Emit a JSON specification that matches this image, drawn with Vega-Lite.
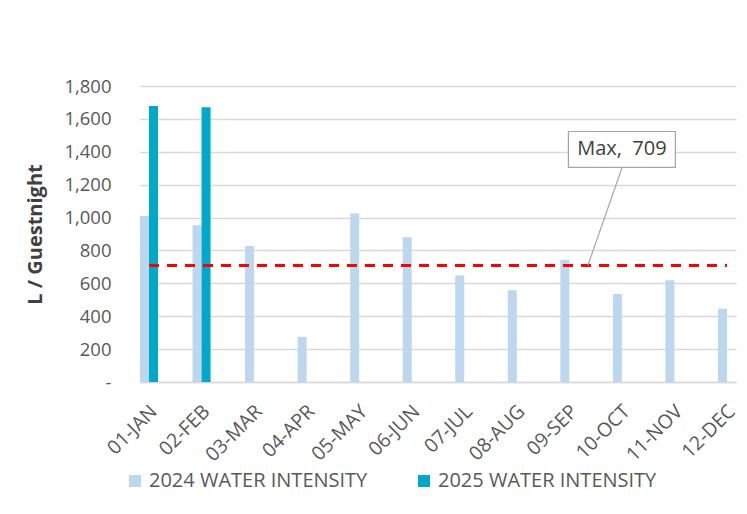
{
  "$schema": "https://vega.github.io/schema/vega-lite/v6.json",
  "width": 596,
  "height": 296,
  "autosize": {"type": "none"},
  "padding": {"left": 140, "top": 86, "right": 11, "bottom": 132},
  "background": "white",
  "config": {
    "view": {"stroke": null},
    "font": "Open Sans",
    "axis": {"labelFont": "Open Sans", "titleFont": "Open Sans"}
  },
  "datasets": {
    "bars": [
      {"month": "01-JAN", "series": "2024 WATER INTENSITY", "value": 1010},
      {"month": "01-JAN", "series": "2025 WATER INTENSITY", "value": 1679},
      {"month": "02-FEB", "series": "2024 WATER INTENSITY", "value": 953},
      {"month": "02-FEB", "series": "2025 WATER INTENSITY", "value": 1671},
      {"month": "03-MAR", "series": "2024 WATER INTENSITY", "value": 827},
      {"month": "04-APR", "series": "2024 WATER INTENSITY", "value": 274},
      {"month": "05-MAY", "series": "2024 WATER INTENSITY", "value": 1024},
      {"month": "06-JUN", "series": "2024 WATER INTENSITY", "value": 880},
      {"month": "07-JUL", "series": "2024 WATER INTENSITY", "value": 647},
      {"month": "08-AUG", "series": "2024 WATER INTENSITY", "value": 558},
      {"month": "09-SEP", "series": "2024 WATER INTENSITY", "value": 744},
      {"month": "10-OCT", "series": "2024 WATER INTENSITY", "value": 535},
      {"month": "11-NOV", "series": "2024 WATER INTENSITY", "value": 618},
      {"month": "12-DEC", "series": "2024 WATER INTENSITY", "value": 446}
    ],
    "maxline": [
      {"month": "01-JAN", "value": 709},
      {"month": "02-FEB", "value": 709},
      {"month": "03-MAR", "value": 709},
      {"month": "04-APR", "value": 709},
      {"month": "05-MAY", "value": 709},
      {"month": "06-JUN", "value": 709},
      {"month": "07-JUL", "value": 709},
      {"month": "08-AUG", "value": 709},
      {"month": "09-SEP", "value": 709},
      {"month": "10-OCT", "value": 709},
      {"month": "11-NOV", "value": 709},
      {"month": "12-DEC", "value": 709}
    ],
    "note": [
      {"month": "10-OCT", "label": "Max,\u00a0 709", "value": 1414, "top": 1301, "bottom": 709}
    ]
  },
  "layer": [
    {
      "data": {"name": "bars"},
      "mark": {"type": "bar"},
      "encoding": {
        "x": {
          "field": "month",
          "type": "nominal",
          "scale": {
            "domain": ["01-JAN","02-FEB","03-MAR","04-APR","05-MAY","06-JUN","07-JUL","08-AUG","09-SEP","10-OCT","11-NOV","12-DEC"],
            "paddingInner": 0.657,
            "paddingOuter": 0
          },
          "axis": {
            "title": null,
            "labelAngle": -45,
            "labelAlign": "right",
            "labelBaseline": "middle",
            "labelFontSize": 19.5,
            "labelColor": "#595959",
            "labelPadding": 26,
            "labelOffset": 5,
            "labelOverlap": false,
            "ticks": false,
            "domainColor": "#d9d9d9",
            "domainWidth": 1.5,
            "grid": false
          }
        },
        "xOffset": {"field": "series", "type": "nominal"},
        "y": {
          "field": "value",
          "type": "quantitative",
          "scale": {"domain": [0, 1800], "nice": false},
          "axis": {
            "title": "L / Guestnight",
            "titleFontSize": 20,
            "titleFontWeight": "bold",
            "titleColor": "#404040",
            "titleAngle": -90,
            "titleX": -105,
            "titleY": 148,
            "titleAlign": "center",
            "titleBaseline": "middle",
            "values": [0,200,400,600,800,1000,1200,1400,1600,1800],
            "labelExpr": "datum.value == 0 ? '-' : format(datum.value, ',')",
            "labelFontSize": 18.5,
            "labelColor": "#595959",
            "labelPadding": 29,
            "labelOverlap": false,
            "ticks": false,
            "domain": false,
            "grid": true,
            "gridColor": "#d9d9d9",
            "gridWidth": 1.5
          }
        },
        "color": {
          "field": "series",
          "type": "nominal",
          "scale": {
            "domain": ["2024 WATER INTENSITY", "2025 WATER INTENSITY"],
            "range": ["#bdd7ee", "#00a9c9"]
          },
          "legend": {
            "title": null,
            "orient": "none",
            "direction": "horizontal",
            "legendX": -15,
            "legendY": 385,
            "symbolType": "square",
            "symbolSize": 144,
            "symbolStrokeWidth": 0,
            "labelFontSize": 20,
            "labelColor": "#595959",
            "labelFont": "Open Sans",
            "labelLimit": 400,
            "labelOffset": 4,
            "columnPadding": 46,
            "padding": 0
          }
        }
      }
    },
    {
      "data": {"name": "maxline"},
      "mark": {"type": "line", "color": "#ff0000", "strokeWidth": 3, "strokeDash": [10, 8]},
      "encoding": {
        "x": {"field": "month", "type": "nominal"},
        "y": {
          "field": "value",
          "type": "quantitative",
          "axis": {
            "title": "L / Guestnight",
            "titleFontSize": 20,
            "titleFontWeight": "bold",
            "titleColor": "#404040",
            "titleAngle": -90,
            "titleX": -105,
            "titleY": 148,
            "titleAlign": "center",
            "titleBaseline": "middle",
            "values": [0,200,400,600,800,1000,1200,1400,1600,1800],
            "labelExpr": "datum.value == 0 ? '-' : format(datum.value, ',')",
            "labelFontSize": 18.5,
            "labelColor": "#595959",
            "labelPadding": 29,
            "labelOverlap": false,
            "ticks": false,
            "domain": false,
            "grid": true,
            "gridColor": "#d9d9d9",
            "gridWidth": 1.5
          }
        }
      }
    },
    {
      "data": {"name": "note"},
      "mark": {"type": "rule", "color": "#a6a6a6", "strokeWidth": 1.2, "x2Offset": -34},
      "encoding": {
        "x": {"field": "month", "type": "nominal"},
        "x2": {"field": "month"},
        "y": {
          "field": "top",
          "type": "quantitative",
          "axis": {
            "title": "L / Guestnight",
            "titleFontSize": 20,
            "titleFontWeight": "bold",
            "titleColor": "#404040",
            "titleAngle": -90,
            "titleX": -105,
            "titleY": 148,
            "titleAlign": "center",
            "titleBaseline": "middle",
            "values": [0,200,400,600,800,1000,1200,1400,1600,1800],
            "labelExpr": "datum.value == 0 ? '-' : format(datum.value, ',')",
            "labelFontSize": 18.5,
            "labelColor": "#595959",
            "labelPadding": 29,
            "labelOverlap": false,
            "ticks": false,
            "domain": false,
            "grid": true,
            "gridColor": "#d9d9d9",
            "gridWidth": 1.5
          }
        },
        "y2": {"field": "bottom"}
      }
    },
    {
      "data": {"name": "note"},
      "mark": {
        "type": "point",
        "shape": "M-1,-0.336L1,-0.336L1,0.336L-1,0.336Z",
        "size": 11449,
        "filled": true,
        "fill": "white",
        "stroke": "#a6a6a6",
        "strokeWidth": 1.2,
        "opacity": 1
      },
      "encoding": {
        "x": {"field": "month", "type": "nominal"},
        "y": {
          "field": "value",
          "type": "quantitative",
          "axis": {
            "title": "L / Guestnight",
            "titleFontSize": 20,
            "titleFontWeight": "bold",
            "titleColor": "#404040",
            "titleAngle": -90,
            "titleX": -105,
            "titleY": 148,
            "titleAlign": "center",
            "titleBaseline": "middle",
            "values": [0,200,400,600,800,1000,1200,1400,1600,1800],
            "labelExpr": "datum.value == 0 ? '-' : format(datum.value, ',')",
            "labelFontSize": 18.5,
            "labelColor": "#595959",
            "labelPadding": 29,
            "labelOverlap": false,
            "ticks": false,
            "domain": false,
            "grid": true,
            "gridColor": "#d9d9d9",
            "gridWidth": 1.5
          }
        }
      }
    },
    {
      "data": {"name": "note"},
      "mark": {"type": "text", "fontSize": 20, "color": "#404040", "font": "Open Sans", "align": "center", "baseline": "middle"},
      "encoding": {
        "x": {"field": "month", "type": "nominal"},
        "y": {
          "field": "value",
          "type": "quantitative",
          "axis": {
            "title": "L / Guestnight",
            "titleFontSize": 20,
            "titleFontWeight": "bold",
            "titleColor": "#404040",
            "titleAngle": -90,
            "titleX": -105,
            "titleY": 148,
            "titleAlign": "center",
            "titleBaseline": "middle",
            "values": [0,200,400,600,800,1000,1200,1400,1600,1800],
            "labelExpr": "datum.value == 0 ? '-' : format(datum.value, ',')",
            "labelFontSize": 18.5,
            "labelColor": "#595959",
            "labelPadding": 29,
            "labelOverlap": false,
            "ticks": false,
            "domain": false,
            "grid": true,
            "gridColor": "#d9d9d9",
            "gridWidth": 1.5
          }
        },
        "text": {"field": "label"}
      }
    }
  ]
}
